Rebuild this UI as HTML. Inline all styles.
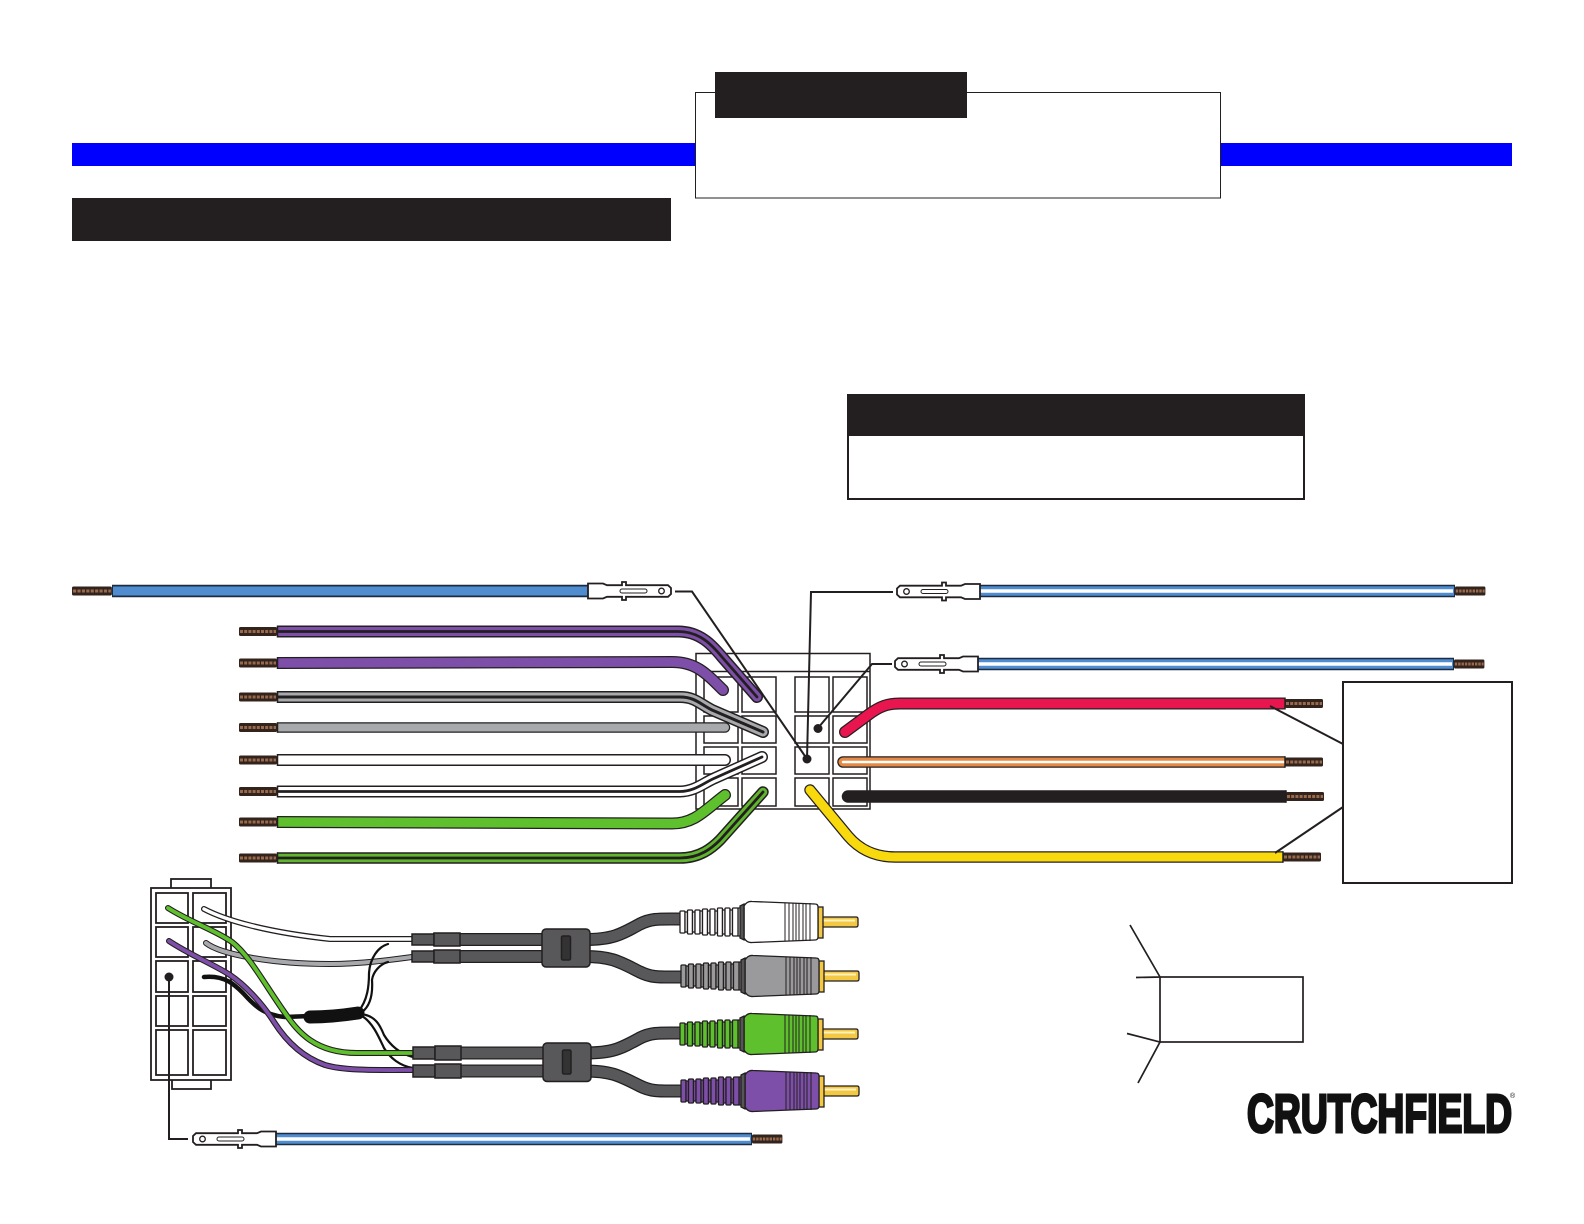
<!DOCTYPE html>
<html><head><meta charset="utf-8"><title>Wiring diagram</title>
<style>html,body{margin:0;padding:0;background:#fff;width:1584px;height:1224px;overflow:hidden}svg{display:block}</style></head>
<body>
<svg xmlns="http://www.w3.org/2000/svg" width="1584" height="1224" viewBox="0 0 1584 1224">
<defs>
<g id="term"><path d="M3 -5.800H45V-9H49V-5.800H64L68 -7.500H83V7.500H68L64 5.800H49V9H45V5.800H3L0 3V-3Z" fill="#fff" stroke="#231f20" stroke-width="1.800"/><circle cx="9.500" cy="0" r="2.800" fill="#fff" stroke="#231f20" stroke-width="1.300"/><rect x="24" y="-2" width="27" height="4" rx="2" fill="#fff" stroke="#231f20" stroke-width="1"/></g>
<g id="strand"><rect x="0" y="-8" width="38" height="16" fill="#fff"/><rect x="0" y="-4.500" width="38" height="9" rx="1.500" fill="#33231d"/><line x1="1" y1="0" x2="37" y2="0" stroke="#9a6a4c" stroke-width="3" stroke-dasharray="3 1.200"/></g>
<g id="plug" stroke="#231f20" stroke-width="1.300">
<path d="M135 -5H176Q178 -5 178 -3V3Q178 5 176 5H135Z" fill="#f3c843"/><rect x="135" y="-2.500" width="40" height="2" fill="#fff2c0" stroke="none"/>
<rect x="138" y="-15" width="5" height="31" fill="#f3c843"/>
<path d="M64 -16Q67 -21 72 -20.500L135 -18Q138 -18 138 -15V15Q138 18 135 18L72 20.500Q67 21 64 16Z" fill="currentColor"/>
<path d="M105 -19V19M109 -19V19M113 -19V19M116 -19V19M119 -19V19M123 -19V19M126 -19V19M130 -19V19" fill="none" stroke-width="1"/>
<path d="M58 -14H64V14H58Z" fill="currentColor"/><path d="M60 -16L64 -18V18L60 16Z" fill="#555"/>
<rect x="0" y="-11" width="5" height="22" rx="1" fill="currentColor"/><rect x="5" y="-10" width="2.500" height="20" fill="currentColor"/>
<rect x="7.500" y="-12" width="5" height="24" rx="1" fill="currentColor"/><rect x="12.500" y="-10" width="2.500" height="20" fill="currentColor"/>
<rect x="15" y="-12" width="5" height="24" rx="1" fill="currentColor"/><rect x="20" y="-11" width="2.500" height="22" fill="currentColor"/>
<rect x="22.500" y="-13" width="5" height="26" rx="1" fill="currentColor"/><rect x="27.500" y="-11" width="2.500" height="22" fill="currentColor"/>
<rect x="30" y="-13" width="5" height="26" rx="1" fill="currentColor"/><rect x="35" y="-11" width="2.500" height="22" fill="currentColor"/>
<rect x="37.500" y="-14" width="5" height="28" rx="1" fill="currentColor"/><rect x="42.500" y="-12" width="2.500" height="24" fill="currentColor"/>
<rect x="45" y="-14" width="5" height="28" rx="1" fill="currentColor"/><rect x="50" y="-12" width="2.500" height="24" fill="currentColor"/>
<rect x="52.500" y="-14" width="5.500" height="28" rx="1" fill="currentColor"/>
</g>
</defs>

<!-- header -->
<rect x="72" y="143" width="1440" height="23" fill="#0000ff"/>
<rect x="695.500" y="92.500" width="525" height="105.500" fill="#fff" stroke="#231f20" stroke-width="1"/>
<rect x="715" y="72" width="252" height="46" fill="#231f20"/>
<rect x="72" y="198" width="599" height="43" fill="#231f20"/>
<rect x="848" y="395" width="456" height="104" fill="#fff" stroke="#231f20" stroke-width="2"/>
<rect x="848" y="395" width="456" height="41" fill="#231f20"/>

<!-- connector -->
<g fill="#fff" stroke="#231f20" stroke-width="1.500">
<rect x="696" y="653.500" width="174" height="155.500"/>
<path d="M696 671.500H870" fill="none"/>
<rect x="704" y="677" width="34" height="35"/><rect x="742" y="677" width="34" height="35"/><rect x="795" y="677" width="34" height="35"/><rect x="833" y="677" width="34" height="35"/>
<rect x="704" y="716" width="34" height="27"/><rect x="742" y="716" width="34" height="27"/><rect x="795" y="716" width="34" height="27"/><rect x="833" y="716" width="34" height="27"/>
<rect x="704" y="747" width="34" height="27"/><rect x="742" y="747" width="34" height="27"/><rect x="795" y="747" width="34" height="27"/><rect x="833" y="747" width="34" height="27"/>
<rect x="704" y="778" width="34" height="28"/><rect x="742" y="778" width="34" height="28"/><rect x="795" y="778" width="34" height="28"/><rect x="833" y="778" width="34" height="28"/>
</g>

<!-- wires -->
<g fill="none" stroke-linejoin="round">
<path d="M112 591H590" stroke="#1c2b3f" stroke-width="12.500"/><path d="M113 591H590" stroke="#4f8cd0" stroke-width="9"/>

<g stroke-linecap="round">
<path d="M278 631.500H678C700 631.500 712 645 722 657L757 697" stroke="#231f20" stroke-width="12"/>
<path d="M278 631.500H678C700 631.500 712 645 722 657L757 697" stroke="#7e4fa8" stroke-width="9"/>
<path d="M278 631.500H678C700 631.500 712 645 722 657L757 697" stroke="#231f20" stroke-width="2.800"/>

<path d="M278 663L672 662C695 662 705 672 723 690" stroke="#231f20" stroke-width="12"/>
<path d="M278 663L672 662C695 662 705 672 723 690" stroke="#7e4fa8" stroke-width="9.500"/>

<path d="M278 697H680C695 697 700 704 712 710L763 732" stroke="#231f20" stroke-width="12"/>
<path d="M278 697H680C695 697 700 704 712 710L763 732" stroke="#a7a9ac" stroke-width="9"/>
<path d="M278 697H680C695 697 700 704 712 710L763 732" stroke="#231f20" stroke-width="3"/>

<path d="M278 727.500H725" stroke="#231f20" stroke-width="10.500"/>
<path d="M278 727.500H725" stroke="#a7a9ac" stroke-width="8"/>

<path d="M278 760H725" stroke="#231f20" stroke-width="12"/>
<path d="M278 760H725" stroke="#fff" stroke-width="9"/>

<path d="M278 791.500H680C695 791.500 705 782 715 778L762 757" stroke="#231f20" stroke-width="12"/>
<path d="M278 791.500H680C695 791.500 705 782 715 778L762 757" stroke="#fff" stroke-width="9"/>
<path d="M278 791.500H680C695 791.500 705 782 715 778L762 757" stroke="#231f20" stroke-width="2.800"/>

<path d="M278 822L672 823.500C695 823.500 705 810 725 795" stroke="#231f20" stroke-width="12"/>
<path d="M278 822L672 823.500C695 823.500 705 810 725 795" stroke="#5fc02e" stroke-width="9.500"/>

<path d="M278 858H680C700 858 712 848 720 840L763 792" stroke="#231f20" stroke-width="11.500"/>
<path d="M278 858H680C700 858 712 848 720 840L763 792" stroke="#5fb52e" stroke-width="8.500"/>
<path d="M278 858H680C700 858 712 848 720 840L763 792" stroke="#231f20" stroke-width="2.800"/>

<path d="M845 732L868 715C880 706 888 703.500 900 703.500H1285" stroke="#231f20" stroke-width="12"/>
<path d="M845 732L868 715C880 706 888 703.500 900 703.500H1285" stroke="#e8154f" stroke-width="9.500"/>
<path d="M843 762H1285" stroke="#231f20" stroke-width="11.500"/>
<path d="M843 762H1285" stroke="#e58a45" stroke-width="9"/>
<path d="M843 762H1285" stroke="#fff" stroke-width="2.500"/>
<path d="M848 796.500H1286" stroke="#231f20" stroke-width="12.500"/>
<path d="M810 790L848 836C860 850 875 857 895 857H1283" stroke="#231f20" stroke-width="11.500"/>
<path d="M810 790L848 836C860 850 875 857 895 857H1283" stroke="#f7d90e" stroke-width="9"/>
</g>

<path d="M979 591H1455" stroke="#1c2b3f" stroke-width="12.500"/><path d="M979 591H1454" stroke="#4f8cd0" stroke-width="9.500"/><path d="M979 591H1453" stroke="#fff" stroke-width="3.500"/>
<path d="M977 664H1454" stroke="#1c2b3f" stroke-width="12.500"/><path d="M977 664H1453" stroke="#4f8cd0" stroke-width="9.500"/><path d="M977 664H1452" stroke="#fff" stroke-width="3.500"/>
<path d="M276 1139H752" stroke="#1c2b3f" stroke-width="12.500"/><path d="M276 1139H751" stroke="#4f8cd0" stroke-width="9.500"/><path d="M276 1139H750" stroke="#fff" stroke-width="3.500"/>
</g>

<!-- strands left -->
<use href="#strand" transform="translate(72 591) scale(1.050 1)"/>
<use href="#strand" x="239" y="631.500"/><use href="#strand" x="239" y="663"/><use href="#strand" x="239" y="697"/><use href="#strand" x="239" y="727.500"/><use href="#strand" x="239" y="760"/><use href="#strand" x="239" y="791.500"/><use href="#strand" x="239" y="822"/><use href="#strand" x="239" y="858"/>
<!-- strands right -->
<use href="#strand" transform="translate(1455 591) scale(.8 1)"/><use href="#strand" transform="translate(1454 664) scale(.8 1)"/>
<use href="#strand" x="1285" y="703.500"/><use href="#strand" x="1285" y="762"/><use href="#strand" x="1286" y="796.500"/><use href="#strand" x="1283" y="857"/>
<use href="#strand" transform="translate(752 1139) scale(.8 1)"/>
<!-- wire end edges -->
<path d="M277.500 625.500v12M277.500 657v12M277.500 691v12M277.500 722.300v10.500M277.500 754v12M277.500 785.500v12M277.500 816v12M277.500 852.300v11.500M1285 697.500v12M1285 756.300v11.500M1286 790.300v12.500M1283 851.300v11.500" stroke="#231f20" stroke-width="1.500" fill="none"/>

<!-- terminals -->
<use href="#term" transform="translate(671 591) scale(-1 1)"/>
<use href="#term" x="897" y="591.500"/>
<use href="#term" x="895" y="664"/>
<use href="#term" x="193" y="1139"/>

<!-- leads -->
<g fill="none" stroke="#231f20" stroke-width="2">
<path d="M675 591.500H692L807 759"/>
<path d="M893 592H811L807 759"/>
<path d="M892 664H872L818 728"/>
<path d="M169 1080V1139H188"/>
<path d="M1270 706L1343 744"/>
<path d="M1275 853L1343 807"/>
</g>
<circle cx="807" cy="759" r="4.500" fill="#231f20"/><circle cx="818" cy="728.500" r="4.500" fill="#231f20"/>

<!-- right box -->
<rect x="1343" y="682" width="169" height="201" fill="#fff" stroke="#231f20" stroke-width="2"/>

<!-- small connector -->
<g fill="#fff" stroke="#231f20" stroke-width="1.800">
<rect x="171" y="879" width="40" height="12"/><rect x="172" y="1078" width="39" height="11"/>
<rect x="151" y="888" width="80" height="192"/>
<rect x="156" y="893" width="32" height="30"/><rect x="193" y="893" width="33" height="30"/>
<rect x="156" y="927" width="32" height="30"/><rect x="193" y="927" width="33" height="30"/>
<rect x="156" y="961" width="32" height="31"/><rect x="193" y="961" width="33" height="31"/>
<rect x="156" y="996" width="32" height="30"/><rect x="193" y="996" width="33" height="30"/>
<rect x="156" y="1030" width="32" height="45"/><rect x="193" y="1030" width="33" height="45"/>
</g>
<path d="M169 977V1090" stroke="#231f20" stroke-width="2"/>
<circle cx="169" cy="977" r="4.500" fill="#231f20"/>

<!-- thin wires -->
<g fill="none" stroke-linecap="round">
<path d="M204 909C225 920 265 932 330 939H412" stroke="#231f20" stroke-width="6"/>
<path d="M204 909C225 920 265 932 330 939H412" stroke="#fff" stroke-width="3.500"/>
<path d="M206 943C220 954 270 964 330 964C360 964 390 960 412 957" stroke="#231f20" stroke-width="6"/>
<path d="M206 943C220 954 270 964 330 964C360 964 390 960 412 957" stroke="#a7a9ac" stroke-width="4"/>
<path d="M204 977C225 975 235 985 243 993C252 1003 262 1015 285 1017L310 1016" stroke="#111" stroke-width="4.500"/>
<path d="M310 1017C330 1017 345 1015 358 1013" stroke="#111" stroke-width="13"/>
<g stroke="#111" stroke-width="2.200">
<path d="M358 1012C368 1000 369 985 369 973C370 958 378 947 388 944"/>
<path d="M362 1012C370 1006 373 995 372 980C373 972 380 964 388 962"/>
<path d="M360 1014C375 1015 380 1025 384 1035C390 1045 400 1054 413 1057"/>
<path d="M362 1016C372 1022 378 1035 384 1048C390 1058 400 1066 413 1068"/>
</g>
<path d="M169 941C190 955 215 965 230 975C245 985 262 1003 274 1022C288 1044 305 1058 325 1065C345 1071 380 1070 413 1070" stroke="#231f20" stroke-width="6"/>
<path d="M169 941C190 955 215 965 230 975C245 985 262 1003 274 1022C288 1044 305 1058 325 1065C345 1071 380 1070 413 1070" stroke="#7e4fa8" stroke-width="3.800"/>
<path d="M168 908C190 922 215 930 232 942C250 956 265 985 285 1013C298 1032 315 1053 357 1053H413" stroke="#231f20" stroke-width="6"/>
<path d="M168 908C190 922 215 930 232 942C250 956 265 985 285 1013C298 1032 315 1053 357 1053H413" stroke="#5fc02e" stroke-width="3.800"/>
</g>

<!-- cables -->
<g fill="none" stroke-linejoin="round">
<path d="M433 939.500H585C612 939.500 620 935 640 924C652 918 660 919 682 919" stroke="#231f20" stroke-width="13"/>
<path d="M433 939.500H585C612 939.500 620 935 640 924C652 918 660 919 682 919" stroke="#58585a" stroke-width="10.500"/>
<path d="M433 956.500H585C612 956.500 620 962 640 972C652 978 660 977 682 977" stroke="#231f20" stroke-width="13"/>
<path d="M433 956.500H585C612 956.500 620 962 640 972C652 978 660 977 682 977" stroke="#58585a" stroke-width="10.500"/>
<path d="M435 1053H585C612 1053 620 1049 640 1038C652 1032 660 1033 682 1033" stroke="#231f20" stroke-width="13"/>
<path d="M435 1053H585C612 1053 620 1049 640 1038C652 1032 660 1033 682 1033" stroke="#58585a" stroke-width="10.500"/>
<path d="M435 1071H585C612 1071 620 1076 640 1086C652 1092 660 1091 682 1091" stroke="#231f20" stroke-width="13"/>
<path d="M435 1071H585C612 1071 620 1076 640 1086C652 1092 660 1091 682 1091" stroke="#58585a" stroke-width="10.500"/>
</g>
<g fill="#58585a" stroke="#231f20" stroke-width="1.500">
<rect x="412" y="934" width="22" height="11"/><rect x="434" y="933" width="26" height="13"/>
<rect x="412" y="951" width="22" height="11"/><rect x="434" y="950" width="26" height="13"/>
<rect x="413" y="1047" width="22" height="12"/><rect x="435" y="1046" width="26" height="14"/>
<rect x="413" y="1065" width="22" height="12"/><rect x="435" y="1064" width="26" height="14"/>
<rect x="542" y="929" width="48" height="38" rx="4"/>
<rect x="543" y="1043" width="48" height="38.500" rx="4"/>
<rect x="561.500" y="936" width="9" height="24" rx="1.500" fill="#333"/>
<rect x="562.500" y="1050" width="8.500" height="24" rx="1.500" fill="#333"/>
</g>

<!-- plugs -->
<use href="#plug" x="680" y="922" color="#ffffff"/>
<use href="#plug" x="681" y="976" color="#9a9a9c"/>
<use href="#plug" x="680" y="1034" color="#5fc02e"/>
<use href="#plug" x="681" y="1091" color="#7e4fa8"/>

<!-- small box -->
<g fill="none" stroke="#231f20" stroke-width="1.700">
<rect x="1160" y="977" width="143" height="65"/>
<path d="M1130 925L1160 977L1136 977.500"/>
<path d="M1127 1033.500L1160 1042L1138 1083"/>
</g>

<!-- logo -->
<text x="1247" y="1132" font-family="'Liberation Sans',sans-serif" font-weight="700" font-size="54" textLength="265" lengthAdjust="spacingAndGlyphs" fill="#111" stroke="#111" stroke-width="3">CRUTCHFIELD</text>
<text x="1510" y="1098" font-family="'Liberation Sans',sans-serif" font-size="7" fill="#111">®</text>
</svg>
</body></html>
